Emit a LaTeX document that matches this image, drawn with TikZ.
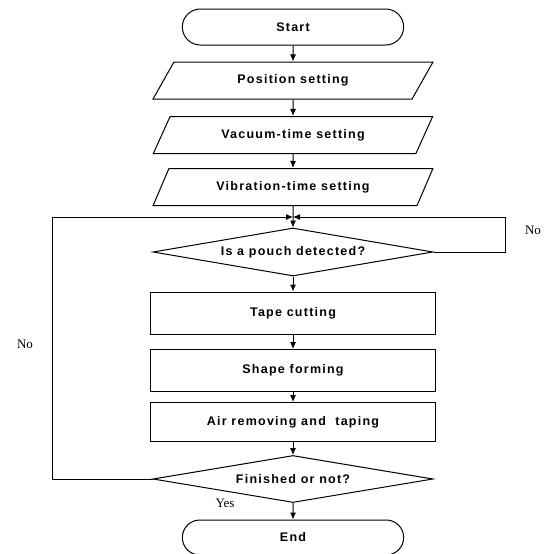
\documentclass[tikz,border=0pt]{standalone}
\usepackage{fontspec}
\setmainfont{Liberation Serif}
\newfontfamily\flowfont[LetterSpace=10]{Liberation Sans}
\usetikzlibrary{shapes.geometric,shapes.misc,arrows.meta}
\tikzset{
	flowtext/.style={font=\flowfont\bfseries\fontsize{12.5pt}{14pt}\selectfont},
	terminal/.style={draw, line width=1pt, rounded rectangle, minimum width=228pt, flowtext},
	iobox/.style={draw, line width=1pt, trapezium, trapezium left angle=62, trapezium right angle=118, trapezium stretches=true, minimum width=280pt, minimum height=37pt, inner xsep=0pt, flowtext},
	procbox/.style={draw, line width=1pt, rectangle, minimum width=285pt, flowtext},
	decide/.style={draw, line width=1pt, diamond, aspect=6, inner sep=0pt, minimum width=280pt, flowtext},
	flowline/.style={line width=1pt, -{Latex[length=7pt,width=6pt]}},
	answer/.style={font=\fontsize{13pt}{15pt}\selectfont}
}

\begin{document}
\begin{tikzpicture}[x=1pt, y=-1pt]
			%%%%% START %%%%%
			\useasboundingbox (0, 0) rectangle (545, 554);
			
			\node[terminal, minimum height=36pt] (start) at (293, 27) {Start};
			\node[iobox] (pos) at (293, 80.5) {Position setting};
			\node[iobox] (vac) at (293, 135) {Vacuum-time setting};
			\node[iobox] (vib) at (293, 187) {Vibration-time setting};
			
			\coordinate (join) at (293, 217);
			\node[decide, minimum height=48pt] (det) at (293, 252) {Is a pouch detected?};
			
			\node[procbox, minimum height=42pt] (tape) at (293, 313) {Tape cutting};
			\node[procbox, minimum height=42pt] (form) at (293, 370.5) {Shape forming};
			\node[procbox, minimum height=39pt] (air) at (293, 422) {Air removing and \ taping};
			
			\node[decide, minimum height=47pt] (fin) at (293, 479) {Finished or not?};
			\node[terminal, minimum height=35pt] (end) at (293, 537.5) {End};
			
			% main line
			\draw[flowline] (start) -- (pos);
			\draw[flowline] (pos) -- (vac);
			\draw[flowline] (vac) -- (vib);
			\draw[flowline] (vib) -- (det);
			\draw[flowline] (det) -- (tape);
			\draw[flowline] (tape) -- (form);
			\draw[flowline] (form) -- (air);
			\draw[flowline] (air) -- (fin);
			\draw[flowline] (fin) -- (end);
			
			% loops back
			\coordinate (rloop) at (505, 217);
			\coordinate (lloop) at (52, 217);
			\draw[flowline] (det.east) -| (rloop) -- (join);
			\draw[flowline] (fin.west) -| (lloop) -- (join);
			
			\node[answer] (noright) at (533, 230) {No};
			\node[answer] (noleft) at (25, 344) {No};
			\node[answer] (yes) at (225, 503) {Yes};
			%%%%% END %%%%%
\end{tikzpicture}
\end{document}
